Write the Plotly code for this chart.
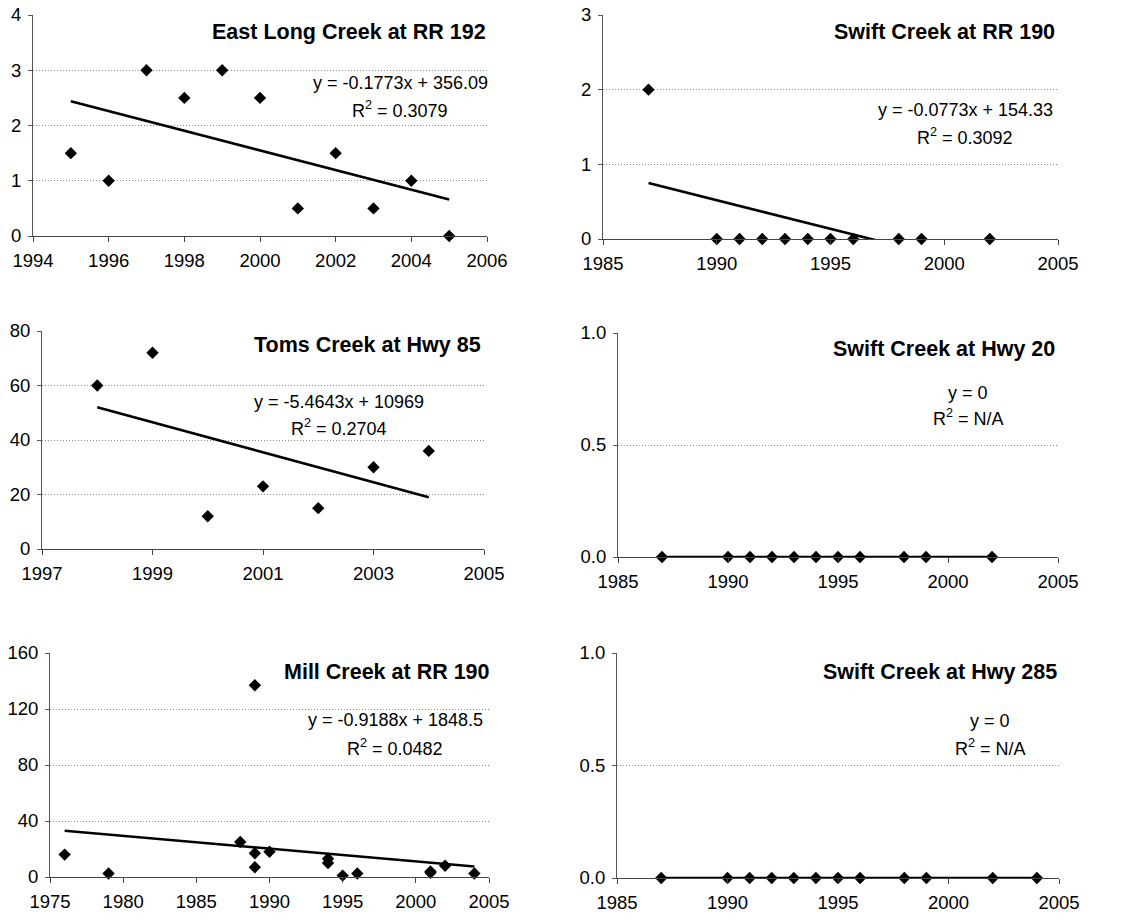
import plotly.graph_objects as go

# ---------------- data ----------------
east_years = [1995, 1996, 1997, 1998, 1999, 2000, 2001, 2002, 2003, 2004, 2005]
east_vals = [1.5, 1, 3, 2.5, 3, 2.5, 0.5, 1.5, 0.5, 1, 0]
east_trend_x = [1995, 2005]
east_trend_y = [2.44, 0.66]

swift190_years = [1987, 1990, 1991, 1992, 1993, 1994, 1995, 1996, 1998, 1999, 2002]
swift190_vals = [2, 0, 0, 0, 0, 0, 0, 0, 0, 0, 0]
swift190_trend_x = [1987, 2002]
swift190_trend_y = [0.75, -0.40]

toms_years = [1998, 1999, 2000, 2001, 2002, 2003, 2004]
toms_vals = [60, 72, 12, 23, 15, 30, 36]
toms_trend_x = [1998, 2004]
toms_trend_y = [52, 19]

swift20_years = [1987, 1990, 1991, 1992, 1993, 1994, 1995, 1996, 1998, 1999, 2002]
swift20_vals = [0, 0, 0, 0, 0, 0, 0, 0, 0, 0, 0]
swift20_trend_x = [1987, 2002]
swift20_trend_y = [0, 0]

mill_years = [1976, 1979, 1988, 1989, 1989, 1989, 1990, 1994, 1994, 1995, 1996, 2001, 2001, 2002, 2004]
mill_vals = [16, 2.5, 25, 137, 17, 7, 18, 13, 10, 1, 2.5, 3, 4, 8, 2.5]
mill_trend_x = [1976, 2004]
mill_trend_y = [33, 7.5]

swift285_years = [1987, 1990, 1991, 1992, 1993, 1994, 1995, 1996, 1998, 1999, 2002, 2004]
swift285_vals = [0, 0, 0, 0, 0, 0, 0, 0, 0, 0, 0, 0]
swift285_trend_x = [1987, 2004]
swift285_trend_y = [0, 0]

titles = ["East Long Creek at RR 192", "Swift Creek at RR 190", "Toms Creek at Hwy 85",
          "Swift Creek at Hwy 20", "Mill Creek at RR 190", "Swift Creek at Hwy 285"]
eq_line1 = ["y = -0.1773x + 356.09", "y = -0.0773x + 154.33", "y = -5.4643x + 10969",
            "y = 0", "y = -0.9188x + 1848.5", "y = 0"]
eq_line2 = ["R<sup>2</sup> = 0.3079", "R<sup>2</sup> = 0.3092", "R<sup>2</sup> = 0.2704",
            "R<sup>2</sup> = N/A", "R<sup>2</sup> = 0.0482", "R<sup>2</sup> = N/A"]

x_ranges = [[1994, 2006], [1985, 2005], [1997, 2005], [1985, 2005], [1975, 2005], [1985, 2005]]
x_dticks = [2, 5, 2, 5, 5, 5]
x_tick0 = [1994, 1985, 1997, 1985, 1975, 1985]
y_ranges = [[0, 4], [0, 3], [0, 80], [0, 1], [0, 160], [0, 1]]
y_dticks = [1, 1, 20, 0.5, 40, 0.5]
y_formats = ["d", "d", "d", ".1f", "d", ".1f"]

series = [
    (east_years, east_vals, east_trend_x, east_trend_y),
    (swift190_years, swift190_vals, swift190_trend_x, swift190_trend_y),
    (toms_years, toms_vals, toms_trend_x, toms_trend_y),
    (swift20_years, swift20_vals, swift20_trend_x, swift20_trend_y),
    (mill_years, mill_vals, mill_trend_x, mill_trend_y),
    (swift285_years, swift285_vals, swift285_trend_x, swift285_trend_y),
]

# ---------------- layout (pixel geometry) ----------------
W, H = 1125, 920
# plot areas: (left, right, top, bottom) in pixels
boxes = [(33, 487, 15, 236), (603, 1058, 15, 239),
         (42, 484, 331, 549), (618, 1058, 333, 557),
         (50, 489, 653, 877), (617, 1059, 653, 878)]
title_pos = [(488, 32), (1057, 32), (483, 345), (1057, 349), (492, 672), (1059, 672)]
eq_pos = [(400, 83, 110), (965, 110, 136), (339, 402, 427),
          (968, 393, 418), (395, 720, 747), (990, 721, 747)]

FONT = "Liberation Sans, Arial, sans-serif"
TICK_SIZE = 18.5

fig = go.Figure()
layout = dict(width=W, height=H, margin=dict(l=0, r=0, t=0, b=0, pad=0, autoexpand=False),
              paper_bgcolor="white", plot_bgcolor="white", showlegend=False,
              font=dict(family=FONT, color="black", size=17))
annotations = []

for i, ((xs, ys, tx, ty), box) in enumerate(zip(series, boxes)):
    n = i + 1
    xa = "x" if n == 1 else f"x{n}"
    ya = "y" if n == 1 else f"y{n}"
    l, r, t, b = box
    layout["xaxis" if n == 1 else f"xaxis{n}"] = dict(
        domain=[l / W, r / W], anchor=ya, range=x_ranges[i], dtick=x_dticks[i], tick0=x_tick0[i],
        showgrid=False, zeroline=False, showline=True, linecolor="#444", linewidth=1,
        ticks="outside", ticklen=5, tickcolor="#444", ticklabelstandoff=3,
        tickfont=dict(size=TICK_SIZE, family=FONT, color="black"),
        automargin=False, fixedrange=True)
    layout["yaxis" if n == 1 else f"yaxis{n}"] = dict(
        domain=[1 - b / H, 1 - t / H], anchor=xa, range=y_ranges[i], dtick=y_dticks[i], tick0=0,
        tickformat=y_formats[i], showgrid=True, gridcolor="#888", griddash="1px,2px", gridwidth=1,
        zeroline=False, showline=True, linecolor="#555", linewidth=1,
        ticks="outside", ticklen=4, tickcolor="#555", ticklabelstandoff=3,
        tickfont=dict(size=TICK_SIZE, family=FONT, color="black"),
        automargin=False, fixedrange=True)
    fig.add_trace(go.Scatter(x=tx, y=ty, mode="lines", xaxis=xa, yaxis=ya,
                             line=dict(color="black", width=2.6), hoverinfo="skip"))
    fig.add_trace(go.Scatter(x=xs, y=ys, mode="markers", xaxis=xa, yaxis=ya, cliponaxis=False,
                             marker=dict(symbol="diamond", size=9.5, color="black")))
    tr, tyc = title_pos[i]
    annotations.append(dict(text=f"<b>{titles[i]}</b>", xref="paper", yref="paper",
                            x=tr / W, y=1 - tyc / H, xanchor="right", yanchor="middle",
                            showarrow=False, font=dict(size=21.5, family=FONT, color="black")))
    ex, e1, e2 = eq_pos[i]
    annotations.append(dict(text=eq_line1[i], xref="paper", yref="paper",
                            x=ex / W, y=1 - e1 / H, xanchor="center", yanchor="middle",
                            showarrow=False, font=dict(size=18, family=FONT, color="black")))
    annotations.append(dict(text=eq_line2[i], xref="paper", yref="paper",
                            x=ex / W, y=1 - e2 / H, xanchor="center", yanchor="middle",
                            showarrow=False, font=dict(size=18, family=FONT, color="black")))

layout["annotations"] = annotations
fig.update_layout(**layout)
fig.write_html("out.html", config={"displayModeBar": False},
               post_script="document.body.style.margin='0px';document.body.style.overflow='hidden';")
